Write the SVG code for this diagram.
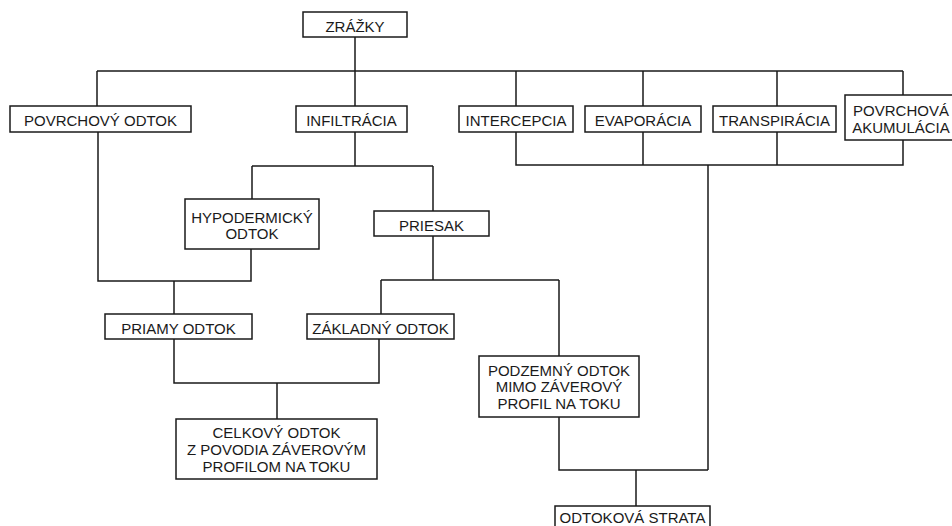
<svg xmlns="http://www.w3.org/2000/svg" width="952" height="526" viewBox="0 0 952 526">
<style>
  .box { fill: #ffffff; stroke: #1a1a1a; stroke-width: 1.5; }
  .lbl { font-family: "Liberation Sans", Arial, sans-serif; font-size: 15px; fill: #1a1a1a; text-anchor: middle; }
  .con { fill: none; stroke: #1a1a1a; stroke-width: 1.5; }
</style>
<rect x="0" y="0" width="952" height="526" fill="#ffffff"/>
<g id="connectors">
  <path class="con" d="M355 37 V71 M97 71 H903 M97 71 V106 M355 71 V106 M516 71 V106 M643 71 V106 M777 71 V106 M903 71 V95"/>
  <path class="con" d="M98 132 V281 H251 V249 M174 281 V314"/>
  <path class="con" d="M355 132 V166 M252 166 H433 M252 166 V199 M433 166 V211"/>
  <path class="con" d="M433 236 V280 M381 280 H559 M381 280 V314 M559 280 V356"/>
  <path class="con" d="M174 339 V383 H379 V339 M277 383 V419"/>
  <path class="con" d="M516 132 V165 H903 V140 M643 132 V165 M777 132 V165 M708 165 V470"/>
  <path class="con" d="M559 417 V470 H708 M636 470 V506"/>
</g>
<g id="zrazky"><rect class="box" x="303" y="12" width="104" height="25"/><text class="lbl" x="355" y="32">ZRÁŽKY</text></g>
<g id="povrchovy-odtok"><rect class="box" x="10" y="106" width="181" height="26"/><text class="lbl" x="100.5" y="126">POVRCHOVÝ ODTOK</text></g>
<g id="infiltracia"><rect class="box" x="296" y="106" width="111" height="26"/><text class="lbl" x="351.5" y="126">INFILTRÁCIA</text></g>
<g id="intercepcia"><rect class="box" x="459" y="106" width="114" height="26"/><text class="lbl" x="516" y="126">INTERCEPCIA</text></g>
<g id="evaporacia"><rect class="box" x="585" y="106" width="116" height="26"/><text class="lbl" x="643" y="126">EVAPORÁCIA</text></g>
<g id="transpiracia"><rect class="box" x="713" y="106" width="123" height="26"/><text class="lbl" x="774.5" y="126">TRANSPIRÁCIA</text></g>
<g id="povrchova-akumulacia"><rect class="box" x="845" y="95" width="120" height="45"/><text class="lbl" x="901" y="116">POVRCHOVÁ</text><text class="lbl" x="901" y="133">AKUMULÁCIA</text></g>
<g id="hypodermicky-odtok"><rect class="box" x="185" y="199" width="134" height="50"/><text class="lbl" x="252" y="223">HYPODERMICKÝ</text><text class="lbl" x="252" y="239">ODTOK</text></g>
<g id="priesak"><rect class="box" x="374" y="211" width="115" height="25"/><text class="lbl" x="431.5" y="231">PRIESAK</text></g>
<g id="priamy-odtok"><rect class="box" x="105" y="314" width="147" height="25"/><text class="lbl" x="178.5" y="334">PRIAMY ODTOK</text></g>
<g id="zakladny-odtok"><rect class="box" x="307" y="314" width="147" height="25"/><text class="lbl" x="380.5" y="334">ZÁKLADNÝ ODTOK</text></g>
<g id="podzemny-odtok"><rect class="box" x="479" y="356" width="160" height="61"/><text class="lbl" x="559" y="376">PODZEMNÝ ODTOK</text><text class="lbl" x="559" y="392">MIMO ZÁVEROVÝ</text><text class="lbl" x="559" y="409">PROFIL NA TOKU</text></g>
<g id="celkovy-odtok"><rect class="box" x="176" y="419" width="201" height="60"/><text class="lbl" x="276.5" y="438">CELKOVÝ ODTOK</text><text class="lbl" x="276.5" y="455">Z POVODIA ZÁVEROVÝM</text><text class="lbl" x="276.5" y="472">PROFILOM NA TOKU</text></g>
<g id="odtokova-strata"><rect class="box" x="555" y="506" width="155" height="30"/><text class="lbl" x="632.5" y="523">ODTOKOVÁ STRATA</text></g>
</svg>
